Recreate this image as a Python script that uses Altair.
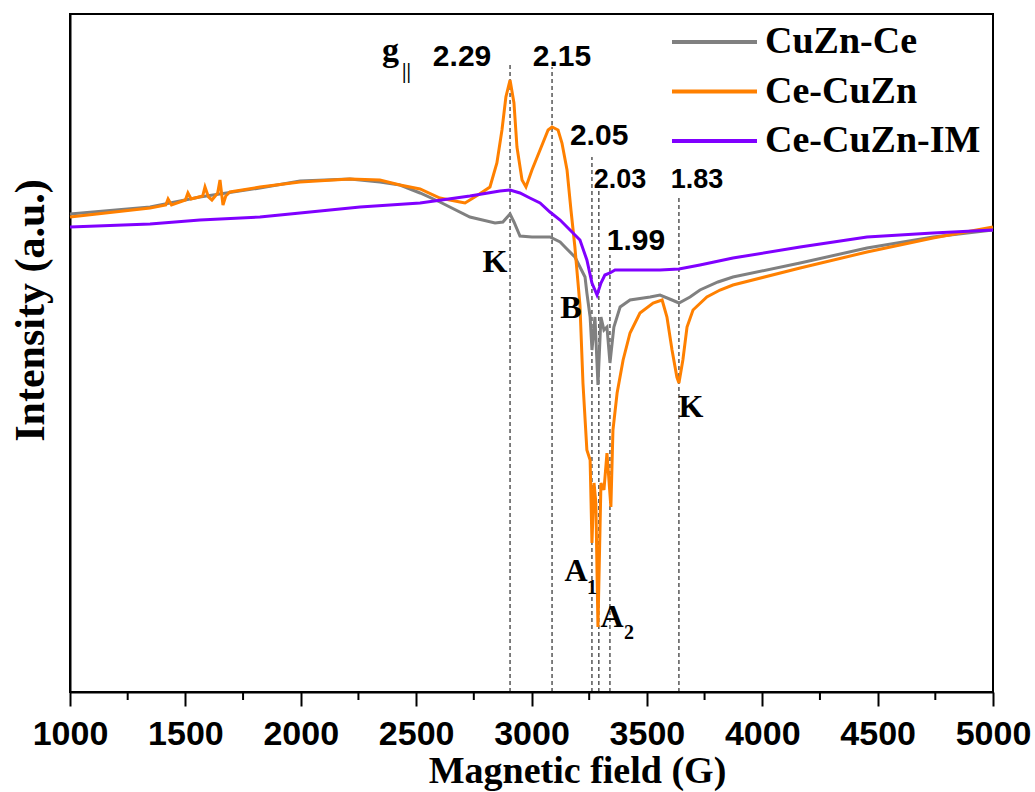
import altair as alt
import pandas as pd

# ---------------- data ----------------
SERIES = ["CuZn-Ce", "Ce-CuZn", "Ce-CuZn-IM"]
COLORS = ["#808080", "#FF8000", "#8000FF"]

cuznce_field = [1000, 1347, 1563, 1823, 1997, 2213, 2343, 2430, 2517, 2603, 2733, 2842, 2876, 2907, 2924,
                2950, 3002, 3080, 3124, 3145, 3188, 3232, 3240, 3254, 3262, 3275, 3288, 3301, 3314, 3327,
                3340, 3357, 3384, 3427, 3514, 3557, 3609, 3639, 3687, 3730, 3808, 3873, 4164, 4454, 4740, 5000]
cuznce_int = [478, 485, 495, 504, 511, 513, 510, 507, 499, 490, 475, 469, 470, 478, 470,
              456, 455, 455, 450, 445, 435, 415, 399, 375, 342, 375, 307, 375, 362, 365,
              329, 365, 385, 392, 395, 397, 392, 389, 395, 402, 410, 415, 429, 444, 455, 462]

cecuzn_field = [1000, 1347, 1415, 1425, 1440, 1500, 1511, 1525, 1575, 1585, 1600, 1615, 1640, 1650, 1663,
                1675, 1693, 1823, 1997, 2213, 2343, 2430, 2517, 2603, 2690, 2712, 2768, 2820, 2850, 2872,
                2889, 2907, 2924, 2937, 2959, 2976, 3002, 3037, 3072, 3089, 3115, 3132, 3154, 3171, 3188,
                3210, 3223, 3240, 3254, 3262, 3271, 3279, 3288, 3301, 3314, 3327, 3344, 3353, 3371, 3397,
                3427, 3470, 3527, 3566, 3587, 3609, 3630, 3639, 3656, 3674, 3700, 3760, 3817, 3873, 4164,
                4454, 4740, 5000]
cecuzn_int = [475, 484, 487, 493, 487, 492, 499, 493, 496, 505, 495, 492, 499, 512, 487,
              496, 500, 505, 510, 513, 512, 507, 503, 494, 490, 489, 497, 505, 529, 562,
              595, 612, 589, 545, 512, 505, 522, 542, 562, 565, 562, 549, 522, 482, 445,
              387, 309, 242, 232, 149, 209, 189, 65, 209, 202, 239, 185, 262, 299, 332,
              359, 379, 389, 392, 375, 342, 315, 309, 332, 365, 382, 395, 402, 407, 424,
              440, 454, 465]

cecuznim_field = [1000, 1347, 1563, 1823, 1997, 2257, 2517, 2733, 2863, 2907, 2950, 2993, 3037, 3080, 3124,
                  3167, 3210, 3240, 3262, 3284, 3301, 3318, 3340, 3362, 3557, 3639, 3730, 3873, 4164, 4454,
                  4740, 5000]
cecuznim_int = [465, 468, 472, 475, 479, 485, 489, 496, 501, 502, 499, 494, 489, 480, 472,
                462, 452, 432, 409, 397, 409, 417, 419, 422, 422, 423, 427, 434, 445, 455,
                459, 462]

# dashed marker lines (field, top intensity)
vline_field = [2907, 3089, 3262, 3292, 3340, 3639]
vline_top = [627, 625, 535, 507, 437, 497]

# g-value labels
gval_big_text = ["2.29", "2.15", "2.05", "1.99"]
gval_big_field = [2699, 3132, 3293, 3453]
gval_big_int = [635, 635, 556, 451]
gval_small_text = ["2.03", "1.83"]
gval_small_field = [3384, 3717]
gval_small_int = [512, 512]

# letter labels
letter_text = ["K", "B", "K", "A", "A"]
letter_field = [2842, 3171, 3691, 3193, 3349]
letter_int = [430, 384, 285, 121, 75]
sub_text = ["1", "2"]
sub_field = [3262, 3422]
sub_int = [104, 59]

g_text = ["g"]
g_field = [2389]
g_int = [631]
gsub_text = ["||"]
gsub_field = [2458]
gsub_int = [620]

minor_ticks = [1250, 1750, 2250, 2750, 3250, 3750, 4250, 4750]

# ---------------- frames ----------------
rows = []
for name, xs, ys in [(SERIES[0], cuznce_field, cuznce_int),
                     (SERIES[1], cecuzn_field, cecuzn_int),
                     (SERIES[2], cecuznim_field, cecuznim_int)]:
    for a, b in zip(xs, ys):
        rows.append({"series": name, "field": a, "intensity": b})
df_lines = pd.DataFrame(rows)

df_vl = pd.DataFrame({"field": vline_field, "top": vline_top, "bottom": [0] * len(vline_field)})

XS = alt.Scale(domain=[1000, 5000], nice=False)
YS = alt.Scale(domain=[0, 678], nice=False, zero=False)

x_axis = alt.Axis(
    values=list(range(1000, 5001, 500)),
    format="d",
    grid=False,
    domainColor="black", domainWidth=2,
    tickColor="black", tickWidth=2, tickSize=14,
    labelFont="Liberation Sans", labelFontSize=34, labelFontWeight="bold", labelColor="black",
    labelPadding=11, labelFlush=False, labelOverlap=False,
    title="Magnetic field (G)",
    titleFont="Liberation Serif", titleFontSize=38, titleFontWeight="bold", titleColor="black",
    titleX=507, titleY=90, titleAlign="center", titleBaseline="alphabetic",
)
y_axis = alt.Axis(
    labels=False, ticks=False, grid=False,
    domainColor="black", domainWidth=2,
    title="Intensity (a.u.)",
    titleFont="Liberation Serif", titleFontSize=42, titleFontWeight="bold", titleColor="black",
    titleAngle=270, titleX=-27, titleY=296, titleAlign="center", titleBaseline="alphabetic",
)

legend = alt.Legend(
    title=None, orient="none", legendX=600, legendY=5,
    symbolType="stroke", symbolSize=7225, symbolStrokeWidth=4,
    labelFont="Liberation Serif", labelFontSize=38, labelFontWeight="bold", labelColor="black",
    labelOffset=6, labelLimit=600, clipHeight=46, rowPadding=3.5, padding=0,
)

base_line = alt.Chart(df_lines).mark_line(strokeWidth=3).encode(
    x=alt.X("field:Q", scale=XS, axis=x_axis),
    y=alt.Y("intensity:Q", scale=YS, axis=y_axis),
    color=alt.Color("series:N", scale=alt.Scale(domain=SERIES, range=COLORS), legend=legend),
)
line_layers = [base_line.transform_filter(alt.datum.series == s) for s in SERIES]

vlines = alt.Chart(df_vl).mark_rule(color="black", strokeWidth=1, strokeDash=[4, 3]).encode(
    x=alt.X("field:Q", scale=XS),
    y=alt.Y("bottom:Q", scale=YS),
    y2="top:Q",
)

minor = alt.Chart(pd.DataFrame({"field": minor_ticks})).mark_rule(color="black", strokeWidth=2).encode(
    x=alt.X("field:Q", scale=XS),
    y=alt.value(678),
    y2=alt.value(686),
)


def text_layer(texts, xs, ys, font, size, baseline="middle"):
    d = pd.DataFrame({"t": texts, "field": xs, "intensity": ys})
    return alt.Chart(d).mark_text(font=font, fontSize=size, fontWeight="bold", color="black",
                                  baseline=baseline, align="center").encode(
        x=alt.X("field:Q", scale=XS),
        y=alt.Y("intensity:Q", scale=YS),
        text="t:N",
    )


labels = [
    text_layer(gval_big_text, gval_big_field, gval_big_int, "Liberation Sans", 30),
    text_layer(gval_small_text, gval_small_field, gval_small_int, "Liberation Sans", 27),
    text_layer(letter_text, letter_field, letter_int, "Liberation Serif", 32),
    text_layer(sub_text, sub_field, sub_int, "Liberation Serif", 20),
    text_layer(g_text, g_field, g_int, "Liberation Serif", 34, baseline="alphabetic"),
    text_layer(gsub_text, gsub_field, gsub_int, "Liberation Serif", 20),
]

chart = alt.layer(vlines, minor, *line_layers, *labels).properties(
    width=923, height=678,
    autosize=alt.AutoSizeParams(type="none"),
    padding={"left": 70, "top": 14, "right": 42, "bottom": 100},
).configure_view(stroke="black", strokeWidth=2)

chart.save("out.html", embed_options={"renderer": "svg", "actions": False})
